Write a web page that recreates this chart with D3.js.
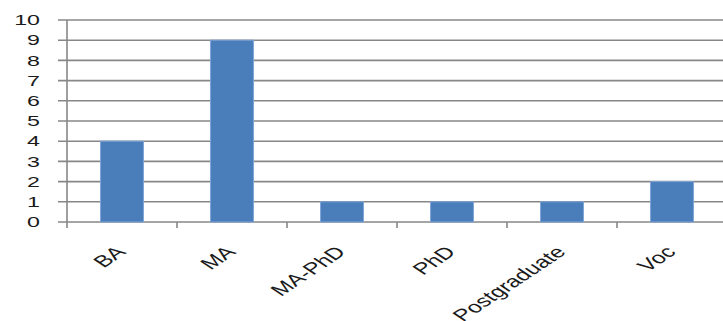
<!DOCTYPE html>
<html>
<head>
<meta charset="utf-8">
<script src="https://cdn.jsdelivr.net/npm/d3@7"></script>
<style>
  html, body { margin: 0; padding: 0; background: #fff; }
  svg { display: block; }
</style>
</head>
<body>
<svg id="chart" width="723" height="321"></svg>
<script>
// Qualification counts
const categories = ["BA", "MA", "MA-PhD", "PhD", "Postgraduate", "Voc"];
const counts = [4, 9, 1, 1, 1, 2];
const yTicks = [0, 1, 2, 3, 4, 5, 6, 7, 8, 9, 10];

const width = 723, height = 321;
const plotLeft = 67, plotTop = 20, plotBottom = 222;
const bandWidth = 110;
const yStretch = 1.6;   // horizontal stretch of the value labels
const xStretch = 1.5;   // horizontal stretch of the category labels

const svg = d3.select("#chart");
const fontFamily = "'Liberation Sans', Arial, sans-serif";
const gridColor = "#878787";

const x = d3.scaleBand()
  .domain(categories)
  .range([plotLeft, plotLeft + bandWidth * categories.length])
  .paddingInner(0.61)
  .paddingOuter(0.305);

const y = d3.scaleLinear().domain([0, 10]).range([plotBottom, plotTop]);

// Horizontal gridlines with the short ticks left of the axis
svg.append("g")
  .selectAll("line")
  .data(yTicks)
  .join("line")
  .attr("x1", plotLeft - 9)
  .attr("x2", width)
  .attr("y1", d => y(d))
  .attr("y2", d => y(d))
  .attr("stroke", gridColor)
  .attr("stroke-width", 1.6);

// Vertical axis line
svg.append("line")
  .attr("x1", plotLeft).attr("x2", plotLeft)
  .attr("y1", plotTop).attr("y2", plotBottom + 6)
  .attr("stroke", gridColor)
  .attr("stroke-width", 1.6);

// Category boundary ticks below the baseline
const boundaries = d3.range(1, categories.length + 1).map(i => plotLeft + i * bandWidth);
svg.append("g")
  .selectAll("line")
  .data(boundaries)
  .join("line")
  .attr("x1", d => d).attr("x2", d => d)
  .attr("y1", plotBottom).attr("y2", plotBottom + 6)
  .attr("stroke", gridColor)
  .attr("stroke-width", 1.6);

// Bars
svg.append("g")
  .selectAll("rect")
  .data(categories.map((c, i) => ({ c, v: counts[i] })))
  .join("rect")
  .attr("x", d => x(d.c))
  .attr("width", x.bandwidth())
  .attr("y", d => y(d.v))
  .attr("height", d => y(0) - y(d.v))
  .attr("fill", "#4a7ebb")
  .attr("stroke", "#7ea4d6")
  .attr("stroke-width", 1);

// Y tick labels
svg.append("g")
  .selectAll("text")
  .data(yTicks)
  .join("text")
  .attr("transform", d => `translate(40,${y(d)}) scale(${yStretch},1)`)
  .attr("text-anchor", "end")
  .attr("dy", "0.36em")
  .attr("font-family", fontFamily)
  .attr("font-size", 14.5)
  .attr("fill", "#1a1a1a")
  .text(d => d);

// Rotated category labels
svg.append("g")
  .selectAll("text")
  .data(categories)
  .join("text")
  .attr("transform", d => `translate(${x(d) + x.bandwidth() / 2 + 5},${plotBottom + 31}) scale(${xStretch},1) rotate(-45)`)
  .attr("text-anchor", "end")
  .attr("font-family", fontFamily)
  .attr("font-size", 16.5)
  .attr("fill", "#1a1a1a")
  .text(d => d);
</script>
</body>
</html>
